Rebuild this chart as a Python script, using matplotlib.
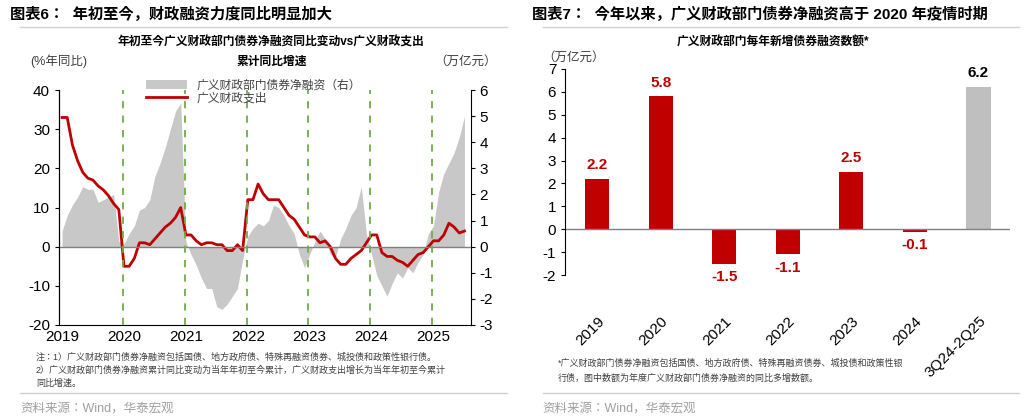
import numpy as np
import matplotlib.pyplot as plt
from matplotlib import font_manager

# 找一个可用的中文黑体
cjk = sorted({f.name for f in font_manager.fontManager.ttflist if 'CJK' in f.name})
sans = [n for n in cjk if 'Sans' in n]
pref = [n for n in sans if n.endswith('SC')] or sans or cjk or ['DejaVu Sans']
plt.rcParams['font.family'] = ['Liberation Sans', pref[0]]
plt.rcParams['axes.unicode_minus'] = False

# 左图: 广义财政支出累计同比 (%), 月度
spend = {
    2019: [33, 33, 26, 22, 19, 17.5, 17, 15.5, 14.5, 13, 11, 9.5],
    2020: [-5, -5, -3, 1, 1, 0.5, 2, 3.5, 5, 6, 7.5, 10],
    2021: [3, 3, 1.5, 0.5, 1, 1, 0.5, 0.5, -1, -1, 0.5, -1],
    2022: [12, 12, 16, 13.5, 12, 12, 12, 10, 8, 7, 5, 3],
    2023: [2.5, 2.5, 1, 1.5, 0, -3, -4.5, -4.5, -3, -2, -1, 1],
    2024: [3, 3, -1.5, -2.5, -2.5, -3.5, -4, -5, -3.5, -2, -1.5, 0],
    2025: [1.5, 1.5, 3, 6, 5, 3.5, 4],
}
# 广义财政部门债券净融资同比变动 (万亿元)
netfin = {
    2019: [0.6, 1.2, 1.6, 1.9, 2.3, 2.2, 2.2, 1.7, 1.8, 1.9, 2.0, 0.2],
    2020: [0.1, 0.5, 0.8, 1.4, 1.5, 1.8, 2.7, 3.2, 3.8, 4.5, 5.2, 5.5],
    2021: [0.2, -0.3, -0.7, -1.2, -1.6, -1.6, -2.3, -2.4, -2.2, -1.9, -1.6, -0.5],
    2022: [0.4, 0.7, 0.9, 0.8, 1.0, 1.6, 1.5, 1.2, 0.8, 0.5, -0.3, -0.8],
    2023: [-0.3, 0.2, 0.6, 0.3, -0.3, -0.4, 0.3, 0.7, 1.2, 1.5, 2.3, 0.5],
    2024: [-0.3, -1.1, -1.5, -1.9, -1.4, -1.0, -1.2, -0.8, -1.0, -0.6, -0.3, 0.5],
    2025: [0.8, 2.1, 2.8, 3.2, 3.6, 4.2, 5.0],
}

# 右图
bar_cats = ['2019', '2020', '2021', '2022', '2023', '2024', '3Q24-2Q25']
bar_vals = [2.2, 5.8, -1.5, -1.1, 2.5, -0.1, 6.2]

red = '#C00000'
grey = '#C8C8C8'

x_s = np.concatenate([[y + m / 12 for m in range(len(v))] for y, v in spend.items()])
y_s = np.concatenate(list(spend.values()))
x_n = np.concatenate([[y + m / 12 for m in range(len(v))] for y, v in netfin.items()])
y_n = np.concatenate(list(netfin.values()))

fig = plt.figure(figsize=(10.24, 4.18), dpi=100)

# ---- 左图 ----
ax = fig.add_axes([0.0576, 0.2225, 0.402, 0.562])
ax2 = ax.twinx()
ax2.fill_between(x_n, 0, y_n, color=grey, lw=0, label='广义财政部门债券净融资（右）')
ax2.set_ylim(-3, 6)
ax2.set_yticks(range(-3, 7))
ax.set_zorder(ax2.get_zorder() + 1)
ax.patch.set_visible(False)
ax.plot(x_s, y_s, color=red, lw=2, label='广义财政支出')
ax.axhline(0, color='#808080', lw=1)
for yr in range(2020, 2026):
    ax.axvline(yr - 0.02, color='#70AD47', ls=(0, (4, 4)), lw=1.3)
ax.set_ylim(-20, 40)
ax.set_xlim(2018.95, 2025.6)
ax.set_xticks(range(2019, 2026))
ax.set_yticks(range(-20, 41, 10))
for a in (ax, ax2):
    a.spines['top'].set_visible(False)
    a.tick_params(labelsize=11, length=3)
ax.spines['right'].set_visible(False)
ax.spines['bottom'].set_visible(False)
ax.tick_params(axis='x', length=0, labelsize=11)
h1, l1 = ax2.get_legend_handles_labels()
h2, l2 = ax.get_legend_handles_labels()
ax.legend(h1 + h2, l1 + l2, loc='upper left', bbox_to_anchor=(0.2, 1.065),
          frameon=False, fontsize=8.5, handlelength=3.5, labelspacing=0.05,
          borderaxespad=0, labelcolor='#404040')

fig.text(0.01, 0.955, '图表6：  年初至今，财政融资力度同比明显加大', fontsize=11, weight='bold')
fig.add_artist(plt.Line2D([0.02, 0.495], [0.935, 0.935], color='#D0D0D0', lw=1))
fig.text(0.265, 0.89, '年初至今广义财政部门债券净融资同比变动vs广义财政支出',
         ha='center', fontsize=8.5, weight='bold')
fig.text(0.265, 0.845, '累计同比增速', ha='center', fontsize=8.5, weight='bold')
fig.text(0.03, 0.845, '(%年同比)', fontsize=9, color='#404040')
fig.text(0.485, 0.845, '（万亿元）', fontsize=9, ha='right', color='#404040')
fig.text(0.035, 0.14, '注：1）广义财政部门债券净融资包括国债、地方政府债、特殊再融资债券、城投债和政策性银行债。',
         fontsize=6.5, color='#404040')
fig.text(0.035, 0.108, '2）广义财政部门债券净融资累计同比变动为当年年初至今累计，广义财政支出增长为当年年初至今累计',
         fontsize=6.5, color='#404040')
fig.text(0.035, 0.076, '同比增速。', fontsize=6.5, color='#404040')
fig.add_artist(plt.Line2D([0.02, 0.495], [0.06, 0.06], color='#D0D0D0', lw=1))
fig.text(0.02, 0.015, '资料来源：Wind，华泰宏观', fontsize=9, color='#A0A0A0')

# ---- 右图 ----
bx = fig.add_axes([0.552, 0.342, 0.4346, 0.493])
colors = [red] * (len(bar_vals) - 1) + ['#BFBFBF']
xs = np.arange(len(bar_cats))
bx.bar(xs, bar_vals, width=0.38, color=colors)
bx.axhline(0, color='#808080', lw=1)
for x, v, c in zip(xs, bar_vals, colors):
    tc = 'black' if c != red else red
    off = 0.3 if v >= 0 else -0.3
    bx.text(x, v + off, f'{v:.1f}', ha='center', va='bottom' if v >= 0 else 'top',
            color=tc, fontsize=11, weight='bold')
bx.set_ylim(-2, 7)
bx.set_xlim(-0.5, len(bar_cats) - 0.5)
bx.set_yticks(range(-2, 8))
bx.set_xticks(xs)
bx.set_xticklabels(bar_cats, rotation=45, ha='right', rotation_mode='anchor')
bx.spines['top'].set_visible(False)
bx.spines['right'].set_visible(False)
bx.spines['bottom'].set_visible(False)
bx.tick_params(axis='x', length=0, labelsize=11, pad=28)
bx.tick_params(axis='y', labelsize=11, length=3)

fig.text(0.52, 0.955, '图表7：  今年以来，广义财政部门债券净融资高于 2020 年疫情时期', fontsize=11, weight='bold')
fig.add_artist(plt.Line2D([0.53, 0.995], [0.935, 0.935], color='#D0D0D0', lw=1))
fig.text(0.755, 0.89, '广义财政部门每年新增债券融资数额*', ha='center', fontsize=8.5, weight='bold')
fig.text(0.53, 0.875, '（万亿元）', fontsize=9, color='#404040', va='top')
fig.text(0.545, 0.125, '*广义财政部门债券净融资包括国债、地方政府债、特殊再融资债券、城投债和政策性银',
         fontsize=6.5, color='#404040')
fig.text(0.545, 0.09, '行债，图中数额为年度广义财政部门债券净融资的同比多增数额。',
         fontsize=6.5, color='#404040')
fig.add_artist(plt.Line2D([0.53, 0.995], [0.06, 0.06], color='#D0D0D0', lw=1))
fig.text(0.53, 0.015, '资料来源：Wind，华泰宏观', fontsize=9, color='#A0A0A0')

fig.savefig('out.png', dpi=100)
